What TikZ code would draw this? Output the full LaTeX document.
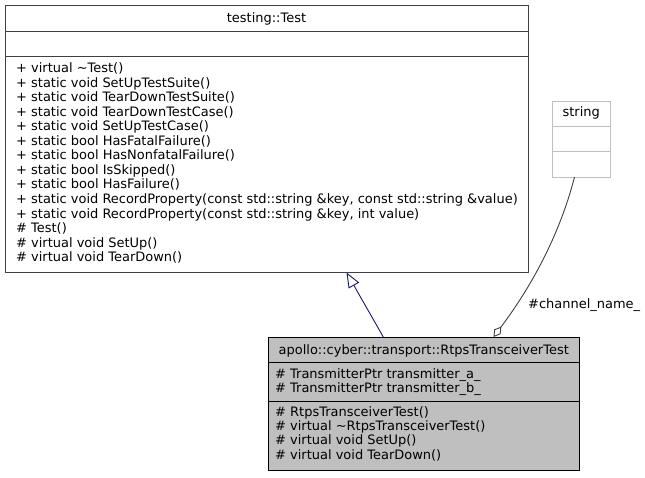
\documentclass[tikz,border=0pt]{standalone}
\usepackage{fontspec}
\setmainfont{DejaVu Sans}
\usetikzlibrary{arrows.meta}
\definecolor{edgegray}{HTML}{404040}
\definecolor{boxfill}{HTML}{BFBFBF}
\definecolor{inherit}{HTML}{191970}
\tikzset{
  txt/.style={anchor=base west, inner sep=0pt, font=\fontsize{12.97}{15}\selectfont},
  ttl/.style={anchor=base, inner sep=0pt, font=\fontsize{12.97}{15}\selectfont},
  classbox/.style={draw=edgegray, line width=0.9pt},
  extbox/.style={draw=boxfill, line width=0.9pt, fill=white},
  curbox/.style={draw=black, line width=0.9pt, fill=boxfill},
}
\begin{document}
\begin{tikzpicture}[x=1pt, y=-1pt]
\useasboundingbox (0,0) rectangle (645,477);

% testing::Test
\draw[classbox] (5,5) rectangle (528,272);
\draw[classbox] (5,31) -- (528,31) (5,56.5) -- (528,56.5);
\node[ttl] (testtitle) at (266.5,22) {testing::Test};
\foreach \t [count=\i] in {
  {+ virtual \textasciitilde Test()},
  {+ static void SetUpTestSuite()},
  {+ static void TearDownTestSuite()},
  {+ static void TearDownTestCase()},
  {+ static void SetUpTestCase()},
  {+ static bool HasFatalFailure()},
  {+ static bool HasNonfatalFailure()},
  {+ static bool IsSkipped()},
  {+ static bool HasFailure()},
  {+ static void RecordProperty(const std::string \&key, const std::string \&value)},
  {+ static void RecordProperty(const std::string \&key, int value)},
  {\# Test()},
  {\# virtual void SetUp()},
  {\# virtual void TearDown()}}
  \node[txt] (tm\i) at (16,{72.5+14.55*(\i-1)}) {\t};

% string
\draw[extbox] (552,101) rectangle (610.5,177);
\draw[boxfill, line width=0.9pt] (552,126.5) -- (610.5,126.5) (552,151.5) -- (610.5,151.5);
\node[ttl] (strtitle) at (581.25,116) {string};
\coordinate (strbot) at (574.5,177);

% apollo::cyber::transport::RtpsTransceiverTest
\draw[curbox] (268,337) rectangle (579.5,470.5);
\draw[black, line width=0.9pt] (268,362) -- (579.5,362) (268,401.5) -- (579.5,401.5);
\node[ttl] (rtitle) at (423.75,354) {apollo::cyber::transport::RtpsTransceiverTest};
\node[txt] (ra1) at (275,378) {\# TransmitterPtr transmitter\_a\_};
\node[txt] (ra2) at (275,392.5) {\# TransmitterPtr transmitter\_b\_};
\foreach \t [count=\i] in {
  {\# RtpsTransceiverTest()},
  {\# virtual \textasciitilde RtpsTransceiverTest()},
  {\# virtual void SetUp()},
  {\# virtual void TearDown()}}
  \node[txt] (rm\i) at (275,{416+14.4*(\i-1)}) {\t};

\coordinate (rtop) at (383.3,337);
\coordinate (ttop) at (346.5,272.5);
\coordinate (rdia) at (493.5,337);

% inheritance
\draw[inherit, line width=0.9pt, -{Triangle[open, length=15pt, width=12pt]}] (rtop) -- (ttop);

% aggregation
\draw[edgegray, line width=0.9pt, -{Diamond[open, length=13pt, width=8pt]}]
  (strbot) .. controls (563,222) and (540,275) .. (rdia);
\node[txt] (agglabel) at (528,308) {\#channel\_name\_};
\end{tikzpicture}
\end{document}
